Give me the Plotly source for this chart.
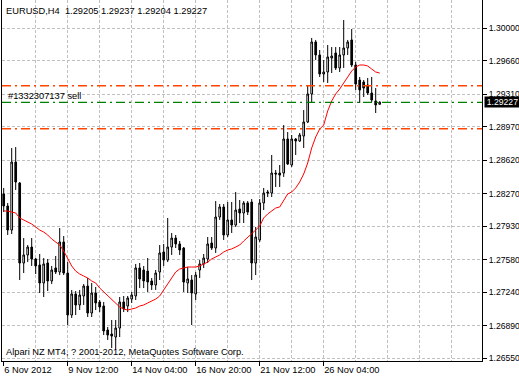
import plotly.graph_objects as go

# ---------------- data (EURUSD H4) ----------------
opens = [1.28267, 1.28141, 1.27890, 1.28601, 1.28382, 1.27545, 1.27629, 1.27712, 1.27587, 1.27524,
         1.27336, 1.27545, 1.27357, 1.27493, 1.27451, 1.27765, 1.27440, 1.27001, 1.27221, 1.27106,
         1.27200, 1.27304, 1.27022, 1.27231, 1.27137, 1.27095, 1.26844, 1.26802, 1.26771, 1.26865,
         1.27137, 1.27095, 1.27168, 1.27200, 1.27493, 1.27472, 1.27461, 1.27357, 1.27315, 1.27451,
         1.27660, 1.27576, 1.27712, 1.27806, 1.27744, 1.27702, 1.27336, 1.27367, 1.27221, 1.27472,
         1.27535, 1.27587, 1.27754, 1.27702, 1.28026, 1.28131, 1.27838, 1.27995, 1.27942, 1.28110,
         1.28068, 1.28173, 1.28183, 1.27545, 1.27786, 1.28173, 1.28288, 1.28277, 1.28486, 1.28486,
         1.28486, 1.28842, 1.28570, 1.28842, 1.28821, 1.28873, 1.29020, 1.29313, 1.29857, 1.29721,
         1.29522, 1.29543, 1.29689, 1.29742, 1.29585, 1.29721, 1.29794, 1.29878, 1.29616, 1.29459,
         1.29438, 1.29407, 1.29323, 1.29240, 1.29205]
highs = [1.28330, 1.28173, 1.28748, 1.28758, 1.28392, 1.27806, 1.27733, 1.27806, 1.27597, 1.27639,
         1.27597, 1.27587, 1.27514, 1.27618, 1.27911, 1.27827, 1.27555, 1.27263, 1.27252, 1.27263,
         1.27325, 1.27388, 1.27336, 1.27294, 1.27158, 1.27137, 1.26876, 1.26949, 1.26949, 1.27189,
         1.27200, 1.27200, 1.27242, 1.27535, 1.27545, 1.27514, 1.27597, 1.27388, 1.27472, 1.27733,
         1.27744, 1.28016, 1.27859, 1.27838, 1.27775, 1.27712, 1.27503, 1.27419, 1.27451, 1.27576,
         1.27639, 1.27817, 1.27817, 1.28193, 1.28162, 1.28162, 1.28183, 1.28183, 1.28288, 1.28204,
         1.28193, 1.28193, 1.28214, 1.27922, 1.28214, 1.28330, 1.28309, 1.28675, 1.28518, 1.28570,
         1.28988, 1.28915, 1.28884, 1.28852, 1.28905, 1.29145, 1.29396, 1.29899, 1.29878, 1.29773,
         1.29668, 1.29825, 1.29804, 1.29804, 1.29804, 1.30087, 1.29878, 1.29993, 1.29648, 1.29491,
         1.29459, 1.29480, 1.29491, 1.29375, 1.29237]
lows = [1.28078, 1.27838, 1.27848, 1.28309, 1.27367, 1.27440, 1.27555, 1.27514, 1.27430, 1.27231,
        1.27189, 1.27252, 1.27325, 1.27430, 1.27419, 1.27419, 1.26896, 1.26970, 1.27001, 1.27053,
        1.27106, 1.26980, 1.26980, 1.27053, 1.27032, 1.26792, 1.26740, 1.26656, 1.26635, 1.26771,
        1.27032, 1.27032, 1.27127, 1.27158, 1.27283, 1.27283, 1.27242, 1.27263, 1.27263, 1.27367,
        1.27514, 1.27555, 1.27629, 1.27702, 1.27629, 1.27242, 1.27231, 1.26896, 1.27158, 1.27388,
        1.27493, 1.27545, 1.27681, 1.27650, 1.27995, 1.27786, 1.27817, 1.27859, 1.27922, 1.27963,
        1.27963, 1.28047, 1.27367, 1.27419, 1.27765, 1.28099, 1.28235, 1.28235, 1.28340, 1.28340,
        1.28445, 1.28570, 1.28549, 1.28675, 1.28811, 1.28748, 1.29009, 1.29229, 1.29668, 1.29491,
        1.29438, 1.29428, 1.29532, 1.29564, 1.29543, 1.29585, 1.29721, 1.29595, 1.29355, 1.29219,
        1.29281, 1.29302, 1.29229, 1.29114, 1.29204]
closes = [1.28141, 1.27890, 1.28601, 1.28392, 1.27545, 1.27629, 1.27712, 1.27587, 1.27514, 1.27336,
          1.27535, 1.27357, 1.27472, 1.27451, 1.27765, 1.27440, 1.27001, 1.27221, 1.27106, 1.27210,
          1.27304, 1.27022, 1.27231, 1.27127, 1.27085, 1.26834, 1.26792, 1.26781, 1.26865, 1.27137,
          1.27064, 1.27179, 1.27210, 1.27493, 1.27378, 1.27357, 1.27346, 1.27315, 1.27440, 1.27650,
          1.27576, 1.27712, 1.27806, 1.27744, 1.27681, 1.27346, 1.27378, 1.27231, 1.27419, 1.27535,
          1.27597, 1.27744, 1.27702, 1.28026, 1.28131, 1.27838, 1.27995, 1.27942, 1.28099, 1.28068,
          1.28173, 1.28078, 1.27545, 1.27817, 1.28173, 1.28277, 1.28277, 1.28486, 1.28476, 1.28465,
          1.28842, 1.28581, 1.28842, 1.28821, 1.28884, 1.29020, 1.29313, 1.29857, 1.29721, 1.29522,
          1.29543, 1.29700, 1.29710, 1.29585, 1.29721, 1.29794, 1.29857, 1.29616, 1.29417, 1.29355,
          1.29375, 1.29323, 1.29250, 1.29198, 1.29227]
moving_avg = [1.28089, 1.28089, 1.28078, 1.28068, 1.28016, 1.27995, 1.27974, 1.27953, 1.27922, 1.27890,
              1.27869, 1.27838, 1.27796, 1.27765, 1.27733, 1.27671, 1.27597, 1.27514, 1.27461, 1.27430,
              1.27409, 1.27388, 1.27357, 1.27336, 1.27283, 1.27242, 1.27200, 1.27158, 1.27116, 1.27085,
              1.27064, 1.27053, 1.27064, 1.27074, 1.27095, 1.27106, 1.27127, 1.27148, 1.27168, 1.27200,
              1.27263, 1.27325, 1.27388, 1.27451, 1.27482, 1.27493, 1.27503, 1.27503, 1.27503, 1.27514,
              1.27535, 1.27555, 1.27587, 1.27608, 1.27629, 1.27660, 1.27681, 1.27692, 1.27712, 1.27733,
              1.27775, 1.27817, 1.27848, 1.27890, 1.27932, 1.28016, 1.28058, 1.28089, 1.28120, 1.28131,
              1.28204, 1.28267, 1.28288, 1.28330, 1.28392, 1.28476, 1.28591, 1.28748, 1.28863, 1.28947,
              1.28988, 1.29135, 1.29240, 1.29313, 1.29365, 1.29428, 1.29491, 1.29553, 1.29595, 1.29616,
              1.29616, 1.29606, 1.29574, 1.29543, 1.29532]

time_label_bars = [0, 16, 32, 48, 64, 80]
time_labels = ["6 Nov 2012", "9 Nov 12:00", "14 Nov 04:00", "16 Nov 20:00", "21 Nov 12:00", "26 Nov 04:00"]
grid_bars = [8, 16, 24, 32, 40, 48, 56, 64, 72, 80, 88, 96, 104, 112]
price_ticks = [1.30000, 1.29660, 1.29310, 1.28970, 1.28620, 1.28270, 1.27930, 1.27580, 1.27240, 1.26890, 1.26550]
price_tick_text = ["1.30000", "1.29660", "1.29310", "1.28970", "1.28620", "1.28270", "1.27930", "1.27580",
                   "1.27240", "1.26890", "1.26550"]

stop_loss = 1.29400
take_profit = 1.28950
order_price = 1.29225
order_label = "#1332307137 sell"
header_text = "EURUSD,H4\u00a0\u00a01.29205 1.29237 1.29204 1.29227"
footer_text = "Alpari NZ MT4, ? 2001-2012, MetaQuotes Software Corp."

FONT = "Liberation Sans"
FS = 9.3
FS_Y = 8.6
GRID = "#c0c0c0"

bars = list(range(len(opens)))

fig = go.Figure()
fig.add_trace(go.Candlestick(
    x=bars, open=opens, high=highs, low=lows, close=closes,
    increasing=dict(line=dict(color="black", width=1), fillcolor="white"),
    decreasing=dict(line=dict(color="black", width=1), fillcolor="black"),
    whiskerwidth=0, showlegend=False, hoverinfo="skip"))
fig.add_trace(go.Scatter(
    x=bars, y=moving_avg, mode="lines", xaxis="x2",
    line=dict(color="#ff0000", width=1), showlegend=False, hoverinfo="skip"))

for price, color, w in [(stop_loss, "#ff4500", 1.5), (take_profit, "#ff4500", 1.5), (order_price, "#008000", 1.2)]:
    fig.add_shape(type="line", xref="paper", x0=0, x1=1, yref="y", y0=price, y1=price,
                  line=dict(color=color, width=w, dash="9px,4px,2px,4px"), layer="above")

x_lo, x_hi = -0.425, 119.575
fig.update_layout(
    width=519, height=378,
    margin=dict(l=2, r=37, t=0, b=17, autoexpand=False),
    paper_bgcolor="white", plot_bgcolor="white",
    boxgap=0.4,
    font=dict(family=FONT, size=FS, color="black"),
    xaxis=dict(range=[x_lo, x_hi], rangeslider=dict(visible=False), automargin=False,
               tickmode="array", tickvals=grid_bars, showticklabels=False, ticks="",
               showgrid=True, gridcolor=GRID, griddash="3px,2px", gridwidth=1,
               showline=True, linecolor="black", linewidth=1, zeroline=False, fixedrange=True),
    xaxis2=dict(range=[x_lo, x_hi], matches="x", overlaying="x", anchor="y", side="bottom",
                automargin=False, tickangle=0,
                tickmode="array", tickvals=time_label_bars, ticktext=time_labels,
                ticks="outside", ticklen=4, tickcolor="black", ticklabelposition="outside right",
                showgrid=False, showline=False, zeroline=False,
                tickfont=dict(family=FONT, size=FS, color="black")),
    yaxis=dict(range=[1.26520, 1.30296], side="right", automargin=False,
               tickmode="array", tickvals=price_ticks, ticktext=price_tick_text,
               ticks="outside", ticklen=4, tickcolor="black",
               showgrid=True, gridcolor=GRID, griddash="3px,2px", gridwidth=1,
               showline=True, mirror=True, linecolor="black", linewidth=1, zeroline=False,
               tickfont=dict(family=FONT, size=FS_Y, color="black")),
    annotations=[
        dict(text=header_text, xref="paper", yref="paper", x=0, y=1, xanchor="left", yanchor="middle",
             xshift=2, yshift=-10.5, showarrow=False, font=dict(family=FONT, size=FS, color="black")),
        dict(text=order_label, xref="paper", yref="y", x=0, y=order_price, xanchor="left", yanchor="middle",
             xshift=4, yshift=6, showarrow=False, font=dict(family=FONT, size=FS, color="black")),
        dict(text=footer_text, xref="paper", yref="paper", x=0, y=0, xanchor="left", yanchor="middle",
             xshift=2, yshift=9, showarrow=False, font=dict(family=FONT, size=FS, color="black")),
        dict(text=f"{closes[-1]:.5f}", xref="paper", yref="y", x=1, y=closes[-1], xanchor="left",
             yanchor="middle", xshift=2, showarrow=False, bgcolor="black", borderpad=0,
             width=35, height=10, align="center",
             font=dict(family=FONT, size=FS_Y, color="white")),
    ],
)

fig.write_html("out.html")
